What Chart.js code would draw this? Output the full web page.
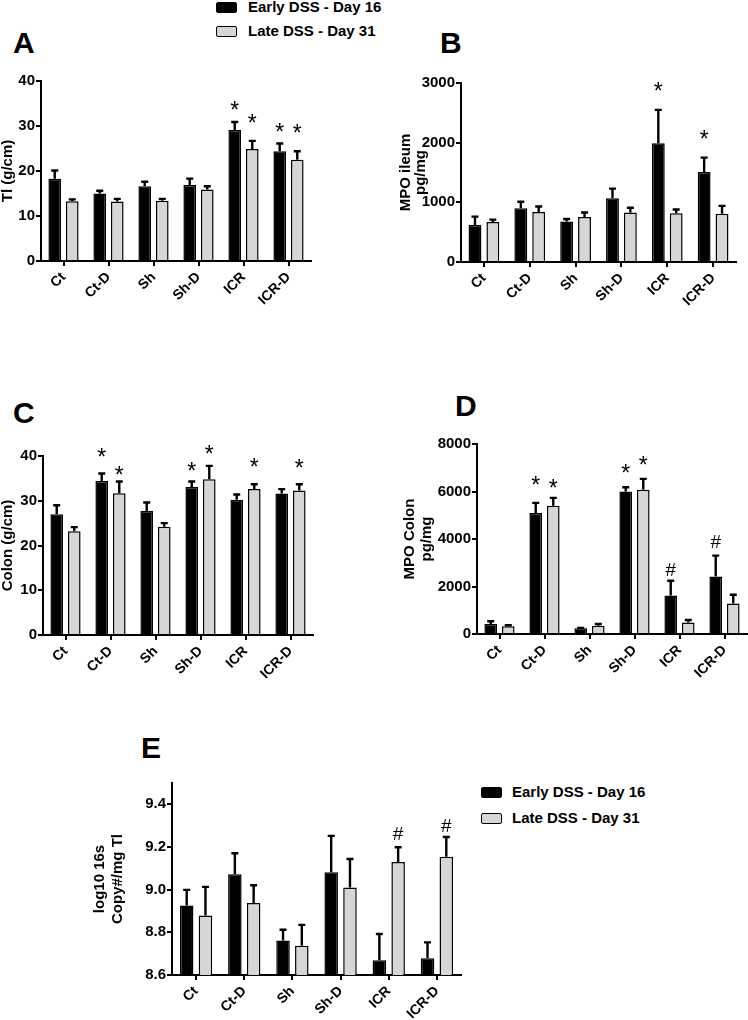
<!DOCTYPE html>
<html>
<head>
<meta charset="utf-8">
<script src="https://cdn.jsdelivr.net/npm/chart.js@4.4.1/dist/chart.umd.min.js"></script>
<style>
  body { margin: 0; background: #fff; }
  #page { position: relative; width: 748px; height: 1020px; overflow: hidden; font-family: 'Liberation Sans', Arial, sans-serif; }
  canvas { position: absolute; }
  .letter { position: absolute; font-size: 30px; font-weight: bold; line-height: 30px; color: #000; }
  .leg { position: absolute; font-size: 15px; font-weight: bold; line-height: 16px; color: #000; white-space: nowrap; }
  .sw { position: absolute; width: 19px; height: 9px; border: 1.5px solid #000; border-radius: 2px; }
</style>
</head>
<body>
<div id="page">
  <div class="sw" style="left:216px;top:2px;background:#000"></div>
  <div class="leg" style="left:248px;top:-1px">Early DSS - Day 16</div>
  <div class="sw" style="left:216px;top:26px;background:#d6d6d6"></div>
  <div class="leg" style="left:248px;top:23px">Late DSS - Day 31</div>

  <div class="letter" style="left:13px;top:28px">A</div>
  <div class="letter" style="left:440px;top:28px">B</div>
  <div class="letter" style="left:13px;top:398px">C</div>
  <div class="letter" style="left:455px;top:391px">D</div>
  <div class="letter" style="left:141px;top:733px">E</div>

  <canvas id="chartA" width="330" height="260" style="left:0;top:60px"></canvas>
  <canvas id="chartB" width="374" height="260" style="left:374px;top:60px"></canvas>
  <canvas id="chartC" width="330" height="290" style="left:0;top:410px"></canvas>
  <canvas id="chartD" width="374" height="290" style="left:374px;top:410px"></canvas>
  <canvas id="chartE" width="420" height="260" style="left:60px;top:760px"></canvas>

  <div class="sw" style="left:481px;top:787px;background:#000"></div>
  <div class="leg" style="left:512px;top:784px">Early DSS - Day 16</div>
  <div class="sw" style="left:481px;top:813px;background:#d6d6d6"></div>
  <div class="leg" style="left:512px;top:810px">Late DSS - Day 31</div>
</div>
<script>
// groups on the x axis
const groups = ["Ct", "Ct-D", "Sh", "Sh-D", "ICR", "ICR-D"];

// A - TI (g/cm)
const tiEarly = [18.3, 15.0, 16.6, 16.9, 29.1, 24.4];
const tiEarlyErr = [1.8, 0.6, 1.0, 1.4, 1.8, 1.7];
const tiLate = [13.3, 13.2, 13.4, 15.9, 24.9, 22.5];
const tiLateErr = [0.4, 0.6, 0.4, 0.7, 1.8, 1.9];
const tiEarlyMarks = ["", "", "", "", "*", "*"];
const tiEarlyMarkAt = [0, 0, 0, 0, 34.7, 29.7];
const tiLateMarks = ["", "", "", "", "*", "*"];
const tiLateMarkAt = [0, 0, 0, 0, 31.7, 29.5];
const tiTicks = [0, 10, 20, 30, 40];

// B - MPO ileum pg/mg
const ileumEarly = [620, 900, 680, 1070, 1990, 1510];
const ileumEarlyErr = [140, 110, 40, 160, 560, 240];
const ileumLate = [670, 840, 755, 830, 815, 810];
const ileumLateErr = [40, 90, 75, 80, 65, 130];
const ileumEarlyMarks = ["", "", "", "", "*", "*"];
const ileumEarlyMarkAt = [0, 0, 0, 0, 2955, 2145];
const ileumTicks = [0, 1000, 2000, 3000];

// C - Colon (g/cm)
const colonEarly = [27.0, 34.4, 27.7, 33.1, 30.2, 31.6];
const colonEarlyErr = [2.0, 1.7, 1.9, 1.2, 1.2, 1.0];
const colonLate = [23.2, 31.7, 24.2, 34.8, 32.6, 32.3];
const colonLateErr = [0.9, 2.6, 0.8, 3.0, 1.1, 1.4];
const colonEarlyMarks = ["", "*", "", "*", "", ""];
const colonEarlyMarkAt = [0, 41.0, 0, 37.8, 0, 0];
const colonLateMarks = ["", "*", "", "*", "*", "*"];
const colonLateMarkAt = [0, 36.9, 0, 41.6, 38.7, 38.4];
const colonTicks = [0, 10, 20, 30, 40];

// D - MPO colon pg/mg
const mpoColonEarly = [420, 5100, 240, 6000, 1620, 2420];
const mpoColonEarlyErr = [120, 420, 20, 180, 620, 880];
const mpoColonLate = [330, 5400, 350, 6070, 480, 1280];
const mpoColonLateErr = [40, 330, 70, 460, 110, 370];
const mpoColonEarlyMarks = ["", "*", "", "*", "#", "#"];
const mpoColonEarlyMarkAt = [0, 6490, 0, 7000, 2750, 3920];
const mpoColonLateMarks = ["", "*", "", "*", "", ""];
const mpoColonLateMarkAt = [0, 6380, 0, 7330, 0, 0];
const mpoColonTicks = [0, 2000, 4000, 6000, 8000];

// E - log10 16s copy#/mg TI
const copyEarly = [8.926, 9.072, 8.762, 9.082, 8.669, 8.678];
const copyEarlyErr = [0.073, 0.099, 0.050, 0.170, 0.123, 0.075];
const copyLate = [8.879, 8.937, 8.737, 9.010, 9.130, 9.154];
const copyLateErr = [0.134, 0.084, 0.098, 0.134, 0.069, 0.093];
const copyLateMarks = ["", "", "", "", "#", "#"];
const copyLateMarkAt = [0, 0, 0, 0, 9.267, 9.303];
const copyTicks = [8.6, 8.8, 9.0, 9.2, 9.4];

Chart.defaults.font.family = "'Liberation Sans', Arial, sans-serif";
Chart.defaults.color = "#000";
Chart.defaults.animation = false;

// draws the upward error bars and the * / # marks
const errorBarPlugin = {
  id: "errorBars",
  afterDatasetsDraw(chart) {
    const ctx = chart.ctx;
    const yScale = chart.scales.y;
    chart.data.datasets.forEach((ds, i) => {
      const meta = chart.getDatasetMeta(i);
      meta.data.forEach((bar, j) => {
        const top = yScale.getPixelForValue(ds.data[j] + ds.errors[j]);
        ctx.save();
        ctx.strokeStyle = "#000";
        ctx.lineWidth = 2.4;
        ctx.beginPath();
        ctx.moveTo(bar.x, bar.y);
        ctx.lineTo(bar.x, top);
        ctx.moveTo(bar.x - 3.5, top);
        ctx.lineTo(bar.x + 3.5, top);
        ctx.stroke();
        const mark = ds.marks ? ds.marks[j] : "";
        if (mark) {
          const y = yScale.getPixelForValue(ds.markAt[j]);
          ctx.fillStyle = "#000";
          ctx.textAlign = "center";
          ctx.textBaseline = "alphabetic";
          if (mark === "*") {
            ctx.font = "23px 'Liberation Sans', Arial, sans-serif";
            ctx.fillText(mark, bar.x, y + 0.57 * 23);
          } else {
            ctx.font = "19px 'Liberation Sans', Arial, sans-serif";
            ctx.fillText(mark, bar.x, y + 0.36 * 19);
          }
        }
        ctx.restore();
      });
    });
  }
};

function makePanel(id, cfg) {
  const tickFont = { size: 14, weight: "bold" };
  const datasets = [
    {
      label: "Early DSS - Day 16",
      data: cfg.early,
      errors: cfg.earlyErr,
      marks: cfg.earlyMarks,
      markAt: cfg.earlyMarkAt,
      backgroundColor: "#000",
      borderColor: "#000",
      borderWidth: 1.5,
      barPercentage: 0.72,
      categoryPercentage: 0.78
    },
    {
      label: "Late DSS - Day 31",
      data: cfg.late,
      errors: cfg.lateErr,
      marks: cfg.lateMarks,
      markAt: cfg.lateMarkAt,
      backgroundColor: "#d6d6d6",
      borderColor: "#000",
      borderWidth: 1.5,
      barPercentage: 0.72,
      categoryPercentage: 0.78
    }
  ];
  new Chart(document.getElementById(id), {
    type: "bar",
    data: { labels: groups, datasets: datasets },
    plugins: [errorBarPlugin],
    options: {
      responsive: false,
      maintainAspectRatio: false,
      layout: { padding: { top: cfg.padTop, right: cfg.padRight, left: 0, bottom: 0 } },
      plugins: { legend: { display: false }, tooltip: { enabled: false } },
      scales: {
        x: {
          ticks: { font: tickFont, maxRotation: 45, minRotation: 45, padding: 3, color: "#000" },
          grid: { display: true, drawOnChartArea: false, offset: false, tickLength: 5, color: "#000", lineWidth: 2 },
          border: { color: "#000", width: 2 },
          afterFit: s => { s.height = cfg.xHeight; }
        },
        y: {
          min: cfg.min,
          max: cfg.max,
          afterBuildTicks: s => { s.ticks = cfg.ticks.map(v => ({ value: v })); },
          ticks: {
            font: { size: 15, weight: "bold" },
            padding: 1,
            color: "#000",
            callback: v => cfg.decimals ? Number(v).toFixed(cfg.decimals) : v
          },
          grid: { display: true, drawOnChartArea: false, tickLength: 5, color: "#000", lineWidth: 2 },
          border: { color: "#000", width: 2 },
          title: {
            display: true,
            text: cfg.title,
            color: "#000",
            font: { size: 15, weight: "bold", lineHeight: cfg.titleLine },
            padding: { top: cfg.titlePad, bottom: 0 }
          },
          afterFit: s => { s.width = cfg.yWidth; }
        }
      }
    }
  });
}

makePanel("chartA", {
  early: tiEarly, earlyErr: tiEarlyErr, earlyMarks: tiEarlyMarks, earlyMarkAt: tiEarlyMarkAt,
  late: tiLate, lateErr: tiLateErr, lateMarks: tiLateMarks, lateMarkAt: tiLateMarkAt,
  min: 0, max: 40, ticks: tiTicks, title: "Tl (g/cm)", titleLine: 1, titlePad: 0,
  yWidth: 41, xHeight: 59, padTop: 21, padRight: 19
});

makePanel("chartB", {
  early: ileumEarly, earlyErr: ileumEarlyErr, earlyMarks: ileumEarlyMarks, earlyMarkAt: ileumEarlyMarkAt,
  late: ileumLate, lateErr: ileumLateErr, lateMarks: null, lateMarkAt: null,
  min: 0, max: 3000, ticks: ileumTicks, title: ["MPO ileum", "pg/mg"], titleLine: 1, titlePad: 24,
  yWidth: 87, xHeight: 58, padTop: 23, padRight: 12
});

makePanel("chartC", {
  early: colonEarly, earlyErr: colonEarlyErr, earlyMarks: colonEarlyMarks, earlyMarkAt: colonEarlyMarkAt,
  late: colonLate, lateErr: colonLateErr, lateMarks: colonLateMarks, lateMarkAt: colonLateMarkAt,
  min: 0, max: 40, ticks: colonTicks, title: "Colon (g/cm)", titleLine: 1, titlePad: 0,
  yWidth: 43, xHeight: 65, padTop: 46, padRight: 17
});

makePanel("chartD", {
  early: mpoColonEarly, earlyErr: mpoColonEarlyErr, earlyMarks: mpoColonEarlyMarks, earlyMarkAt: mpoColonEarlyMarkAt,
  late: mpoColonLate, lateErr: mpoColonLateErr, lateMarks: mpoColonLateMarks, lateMarkAt: mpoColonLateMarkAt,
  min: 0, max: 8000, ticks: mpoColonTicks, title: ["MPO Colon", "pg/mg"], titleLine: 1.13, titlePad: 27,
  yWidth: 103, xHeight: 66, padTop: 34, padRight: 1
});

makePanel("chartE", {
  early: copyEarly, earlyErr: copyEarlyErr, earlyMarks: null, earlyMarkAt: null,
  late: copyLate, lateErr: copyLateErr, lateMarks: copyLateMarks, lateMarkAt: copyLateMarkAt,
  min: 8.6, max: 9.5, ticks: copyTicks, decimals: 1, title: ["log10 16s", "Copy#/mg Tl"], titleLine: 1.2, titlePad: 31,
  yWidth: 112, xHeight: 45, padTop: 23, padRight: 19
});
</script>
</body>
</html>
